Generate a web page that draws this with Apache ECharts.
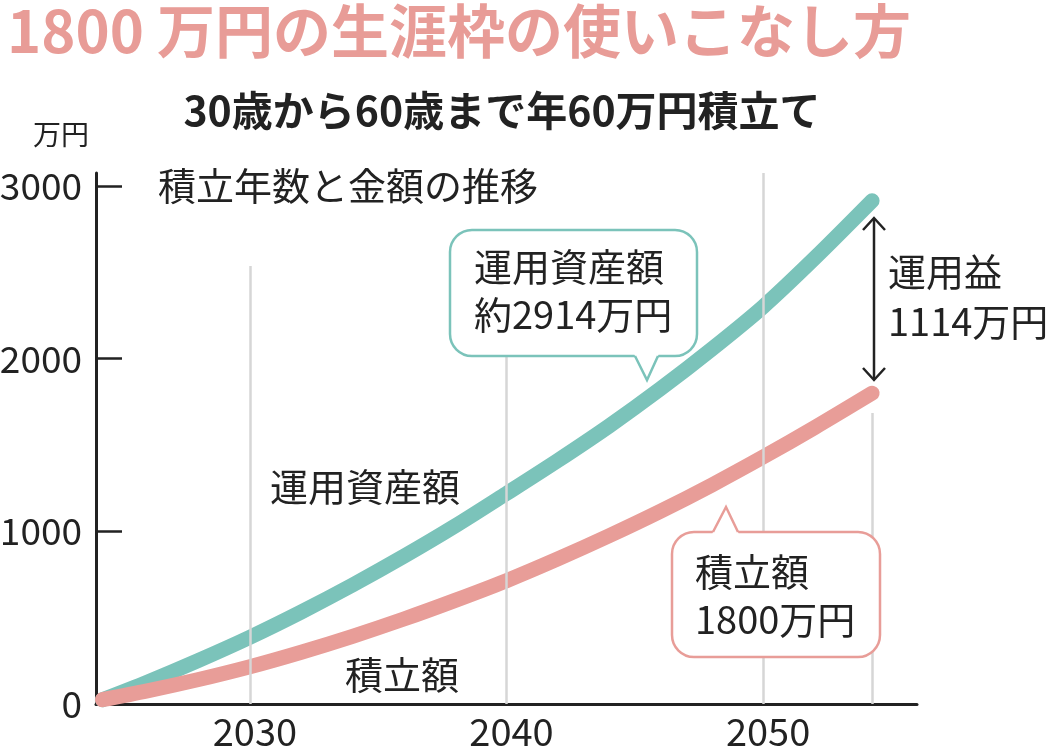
<!DOCTYPE html>
<html><head><meta charset="utf-8">
<script src="https://cdn.jsdelivr.net/npm/echarts@6/dist/echarts.min.js"></script>
<style>html,body{margin:0;padding:0;background:#fff}#c{width:1049px;height:749px}</style>
</head><body><div id="c"></div>
<script>
// ---- data ----
const years = [2024.25, 2026, 2028, 2030, 2032, 2034, 2036, 2038, 2040, 2042, 2044, 2046, 2048, 2050, 2052, 2054.25];
const assetValues = [25, 127, 253, 387, 533, 689, 855, 1031, 1219, 1410, 1610, 1825, 2055, 2300, 2580, 2914];
const savedValues = [25, 76, 142, 216, 300, 392, 492, 600, 714, 840, 974, 1116, 1268, 1430, 1600, 1800];
const yTicks = [0, 1000, 2000, 3000];
const xTicks = [2030, 2040, 2050];
const endYear = 2054.25;

const FONT = '"Noto Sans CJK JP", "Noto Sans", sans-serif';
const TEAL = '#7bc3ba', PINK = '#e89d98', INK = '#222222', GRID = '#d6d6d6';

const chart = echarts.init(document.getElementById('c'));
const pairs = (vals) => years.map((y, i) => [y, vals[i]]);
const gridSeg = (x, top) => [{coord: [x, top]}, {coord: [x, 0]}];

function callout(box, tail, color, tailDown) {
  const [x, y, w, h] = box;
  const [l, t, r, ty] = tail;
  const baseY = tailDown ? y + h : y;
  const off = tailDown ? -3 : 3;
  return [
    {type: 'rect', z: 10, shape: {x, y, width: w, height: h, r: 22}, style: {fill: '#fff', stroke: color, lineWidth: 2.5}},
    {type: 'polygon', z: 11, shape: {points: [[l - 1, baseY + off], [r + 1, baseY + off], [r, baseY], [t, ty], [l, baseY]]}, style: {fill: '#fff'}},
    {type: 'polyline', z: 12, shape: {points: [[l, baseY], [t, ty], [r, baseY]]}, style: {fill: null, stroke: color, lineWidth: 2.5}}
  ];
}

const txt = (x, y, s, size, extra) => Object.assign({type: 'text', z: 13, x, y,
  style: Object.assign({text: s, fill: INK, font: size + 'px ' + FONT, textVerticalAlign: 'middle'}, extra || {})});

const option = {
  animation: false,
  backgroundColor: '#fff',
  grid: {left: 96, right: 132, top: 173, bottom: 45, containLabel: false, outerBoundsMode: 'none'},
  xAxis: {
    type: 'value', min: 2024, max: 2056,
    axisLine: {show: true, onZero: false, lineStyle: {color: INK, width: 3}},
    axisTick: {show: false},
    splitLine: {show: false},
    axisLabel: {customValues: xTicks, color: INK, fontSize: 38, fontFamily: FONT, margin: 9,
      padding: [0, 0, 0, 10], formatter: v => String(v)}
  },
  yAxis: {
    type: 'value', min: 0, max: 3075,
    axisLine: {show: true, lineStyle: {color: INK, width: 3}},
    axisTick: {show: true, inside: true, length: 26, customValues: yTicks, lineStyle: {color: INK, width: 2.5}},
    splitLine: {show: false},
    axisLabel: {customValues: yTicks, color: INK, fontSize: 37, fontFamily: FONT, margin: 14,
      formatter: v => String(v)}
  },
  series: [
    {
      type: 'line', data: [], z: 1, silent: true,
      markLine: {
        silent: true, symbol: 'none', label: {show: false},
        lineStyle: {color: GRID, width: 2.5, type: 'solid'},
        data: [gridSeg(2030, 2536), gridSeg(2040, 2015), gridSeg(2050, 3075), gridSeg(endYear, 1685)]
      }
    },
    {
      name: '運用資産額', type: 'line', data: pairs(assetValues), z: 3, smooth: 0.3,
      symbol: 'none', lineStyle: {color: TEAL, width: 15, cap: 'round', join: 'round'}
    },
    {
      name: '積立額', type: 'line', data: pairs(savedValues), z: 4, smooth: 0.3,
      symbol: 'none', lineStyle: {color: PINK, width: 15, cap: 'round', join: 'round'}
    }
  ],
  graphic: [
    {type: 'text', left: 7, top: 2, style: {text: '1800 万円の生涯枠の使いこなし方', fill: '#e89c97', font: 'bold 58px ' + FONT}},
    txt(502, 110, '30歳から60歳まで年60万円積立て', 41, {font: 'bold 41px ' + FONT, textAlign: 'center'}),
    txt(33, 134, '万円', 28),
    txt(158, 186, '積立年数と金額の推移', 38),
    txt(270, 487, '運用資産額', 38),
    txt(345, 675, '積立額', 38),
    ...callout([450, 230, 247, 126], [635, 647, 658, 380], TEAL, true),
    txt(474, 267, '運用資産額', 38),
    txt(474, 315, '約2914万円', 38),
    ...callout([672, 532, 208, 125], [713, 726, 738, 507], PINK, false),
    txt(695, 572, '積立額', 38),
    txt(695, 620, '1800万円', 38),
    {type: 'line', z: 10, shape: {x1: 874, y1: 219, x2: 874, y2: 379}, style: {stroke: INK, lineWidth: 2.5}},
    {type: 'polyline', z: 10, shape: {points: [[863, 230], [874, 218], [885, 230]]}, style: {stroke: INK, lineWidth: 2.5, fill: null}},
    {type: 'polyline', z: 10, shape: {points: [[863, 368], [874, 380], [885, 368]]}, style: {stroke: INK, lineWidth: 2.5, fill: null}},
    txt(888, 272, '運用益', 38),
    txt(888, 322, '1114万円', 38)
  ]
};
chart.setOption(option);
</script>
</body></html>
